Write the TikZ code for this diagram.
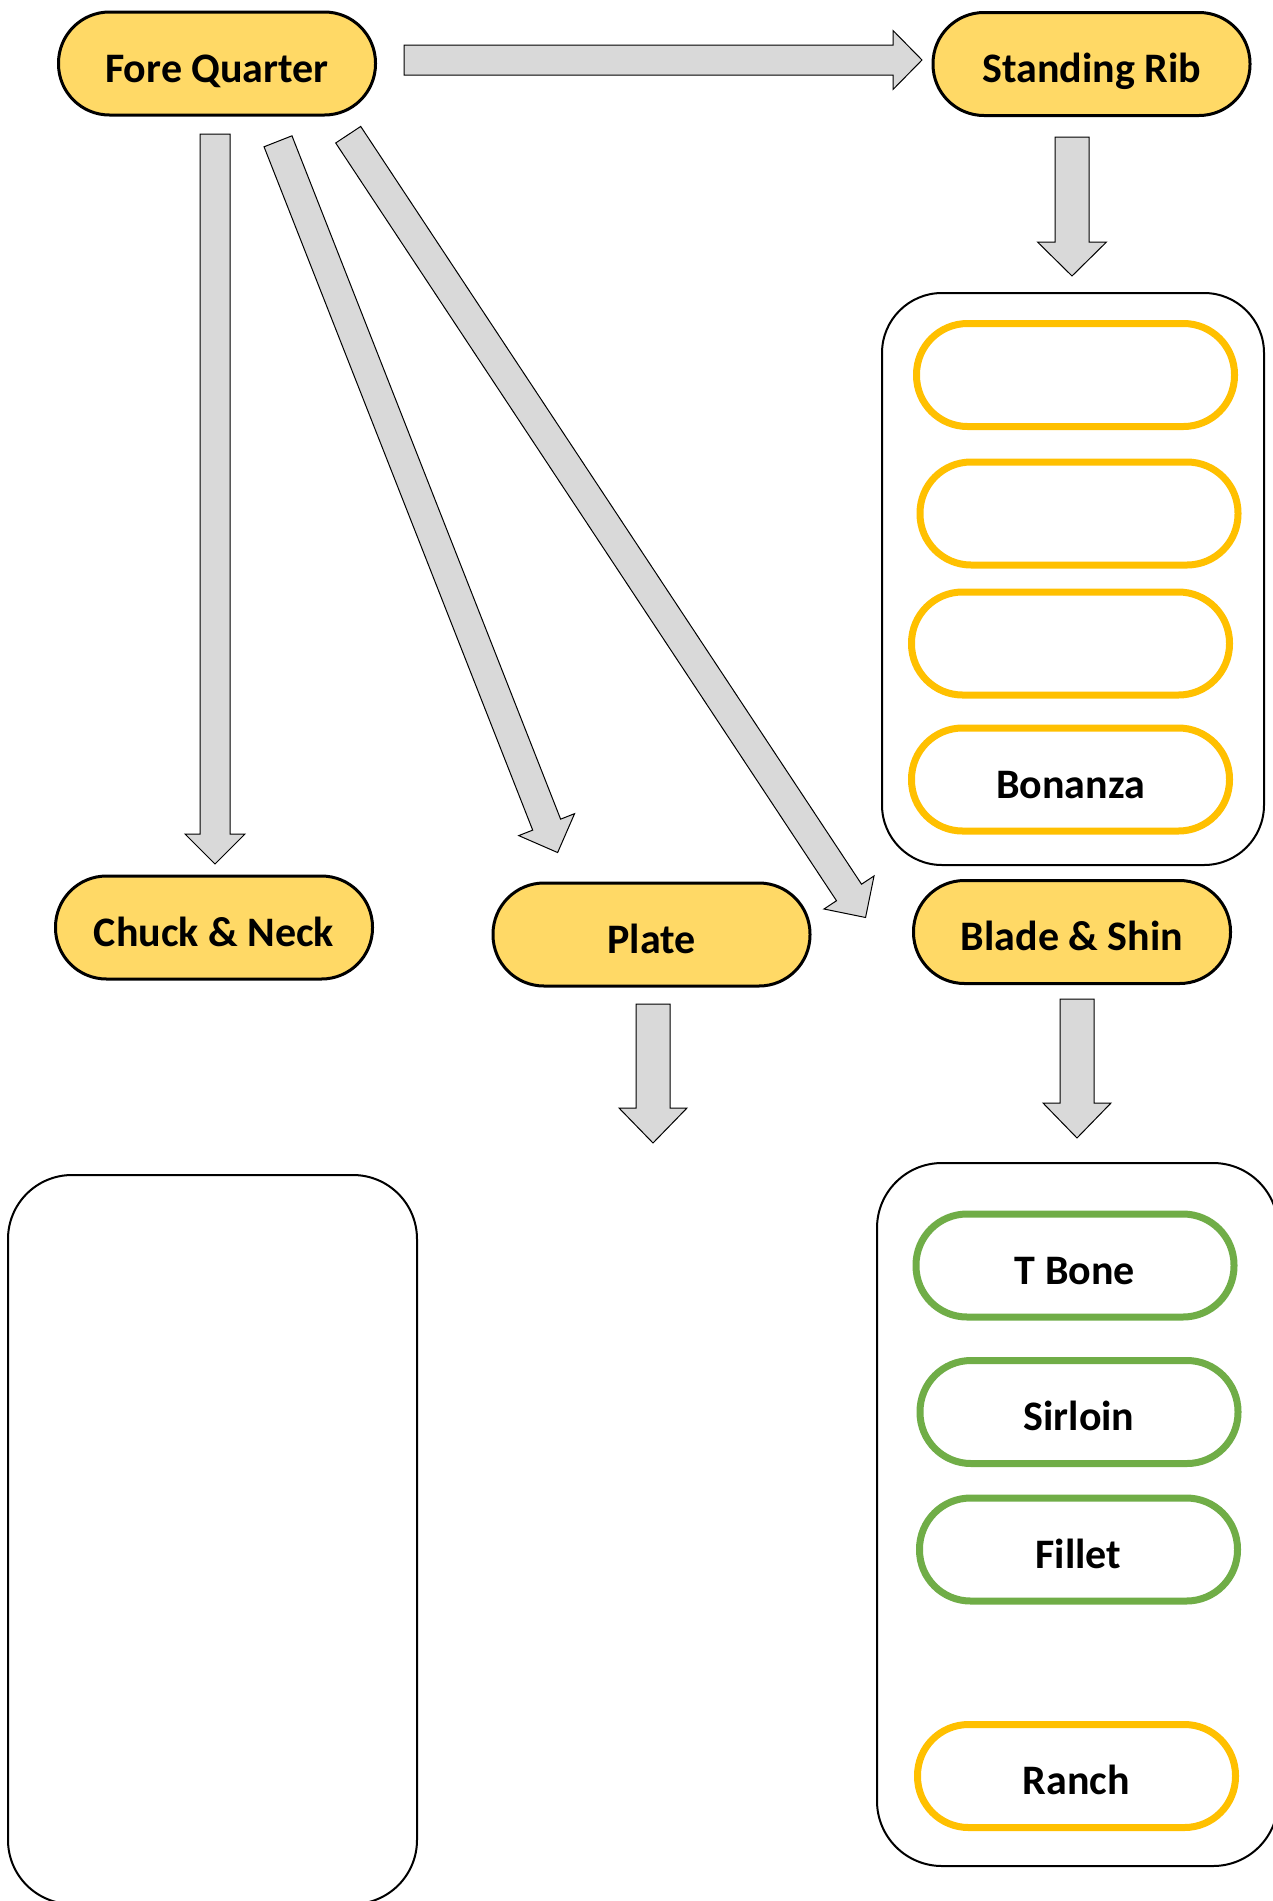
\documentclass[tikz,border=0pt]{standalone}
\usepackage{fontspec}
\setmainfont{Carlito}
\usetikzlibrary{calc}

\definecolor{pillfill}{HTML}{FFD966}
\definecolor{gold}{HTML}{FFC000}
\definecolor{leaf}{HTML}{70AD47}
\definecolor{arrowgray}{HTML}{D9D9D9}

\newdimen\baxd \newdimen\bayd \newdimen\bbxd \newdimen\bbyd
% Block arrow from coordinate #1 to coordinate #2:
% #3 shaft half width, #4 head half width, #5 head length (all in pt)
\newcommand\blockarrow[5]{%
  \pgfextractx{\baxd}{\pgfpointanchor{#1}{center}}%
  \pgfextracty{\bayd}{\pgfpointanchor{#1}{center}}%
  \pgfextractx{\bbxd}{\pgfpointanchor{#2}{center}}%
  \pgfextracty{\bbyd}{\pgfpointanchor{#2}{center}}%
  \pgfmathsetmacro\barang{atan2(\bbyd-\bayd,\bbxd-\baxd)}%
  \pgfmathsetmacro\barlen{veclen(\bbxd-\baxd,\bbyd-\bayd)}%
  \begin{scope}[shift={(#1)},rotate=\barang]
    \draw[fatarrow] (0pt,{-#3pt}) -- ({\barlen pt-#5pt},{-#3pt})
      -- ({\barlen pt-#5pt},{-#4pt}) -- ({\barlen pt},0pt)
      -- ({\barlen pt-#5pt},{#4pt}) -- ({\barlen pt-#5pt},{#3pt})
      -- (0pt,{#3pt}) -- cycle;
  \end{scope}}

\begin{document}
\begin{tikzpicture}[x=1pt,y=-1pt,
  every node/.style={font=\fontsize{42}{50}\selectfont\bfseries,
    text height=40pt, text depth=3pt, inner sep=0pt},
  pill/.style={draw=black, line width=3pt, fill=pillfill,
    rounded corners=51pt, minimum width=317pt, minimum height=103pt},
  cut/.style={draw=#1, line width=7pt, fill=white,
    rounded corners=51pt, minimum width=318pt, minimum height=103pt},
  group/.style={draw=black, line width=2pt, fill=white},
  fatarrow/.style={draw=black, line width=1pt, fill=arrowgray, line join=miter}]

\useasboundingbox (0,0) rectangle (1273,1901);
\clip (0,0) rectangle (1273,1901);

% primary cuts
\node[pill] (fq) at (217,63.5) {Fore Quarter};
\node[pill] (sr) at (1091.5,64) {Standing Rib};
\node[pill] (cn) at (214,927.5) {Chuck \& Neck};
\node[pill] (pl) at (651.5,934.5) {Plate};
\node[pill] (bs) at (1072,932) {Blade \& Shin};

% groups of retail cuts
\node[group, rounded corners=60pt, minimum width=382pt, minimum height=572pt] (ribs) at (1073,579) {};
\node[group, rounded corners=65pt, minimum width=401pt, minimum height=703pt] (bladecuts) at (1077.5,1514.5) {};
\node[group, rounded corners=64pt, minimum width=409pt, minimum height=729pt] (chuckcuts) at (212.5,1539.5) {};

% standing rib cuts
\node[cut=gold] (rib1) at (1075.5,375) {};
\node[cut=gold] (rib2) at (1079,513.5) {};
\node[cut=gold] (rib3) at (1070.5,643.5) {};
\node[cut=gold] (bonanza) at (1070.5,779.5) {Bonanza};

% blade & shin cuts
\node[cut=leaf] (tbone) at (1075,1265.5) {T Bone};
\node[cut=leaf] (sirloin) at (1079,1412) {Sirloin};
\node[cut=leaf] (fillet) at (1078.5,1549.5) {Fillet};
\node[cut=gold] (ranch) at (1076.5,1776) {Ranch};

% arrow ends
\coordinate (fq-e) at (404,60);
\coordinate (sr-w) at (922,60);
\coordinate (fq-s) at (215,134);
\coordinate (cn-n) at (215,864);
\coordinate (fq-s2) at (278,141.3);
\coordinate (pl-n) at (557.7,852.7);
\coordinate (fq-se) at (348.2,134.7);
\coordinate (bs-nw) at (865.7,917.7);
\coordinate (sr-s) at (1072,137);
\coordinate (ribs-n) at (1072,276);
\coordinate (pl-s) at (653,1004);
\coordinate (pl-out) at (653,1143);
\coordinate (bs-s) at (1077,999);
\coordinate (bladecuts-n) at (1077,1138);

\blockarrow{fq-e}{sr-w}{15}{29.5}{29}
\blockarrow{fq-s}{cn-n}{15}{30}{30}
\blockarrow{fq-s2}{pl-n}{15}{30}{30}
\blockarrow{fq-se}{bs-nw}{15}{30}{30}
\blockarrow{sr-s}{ribs-n}{17}{34.5}{34}
\blockarrow{pl-s}{pl-out}{17}{34}{35}
\blockarrow{bs-s}{bladecuts-n}{17}{34}{35}

\end{tikzpicture}
\end{document}
